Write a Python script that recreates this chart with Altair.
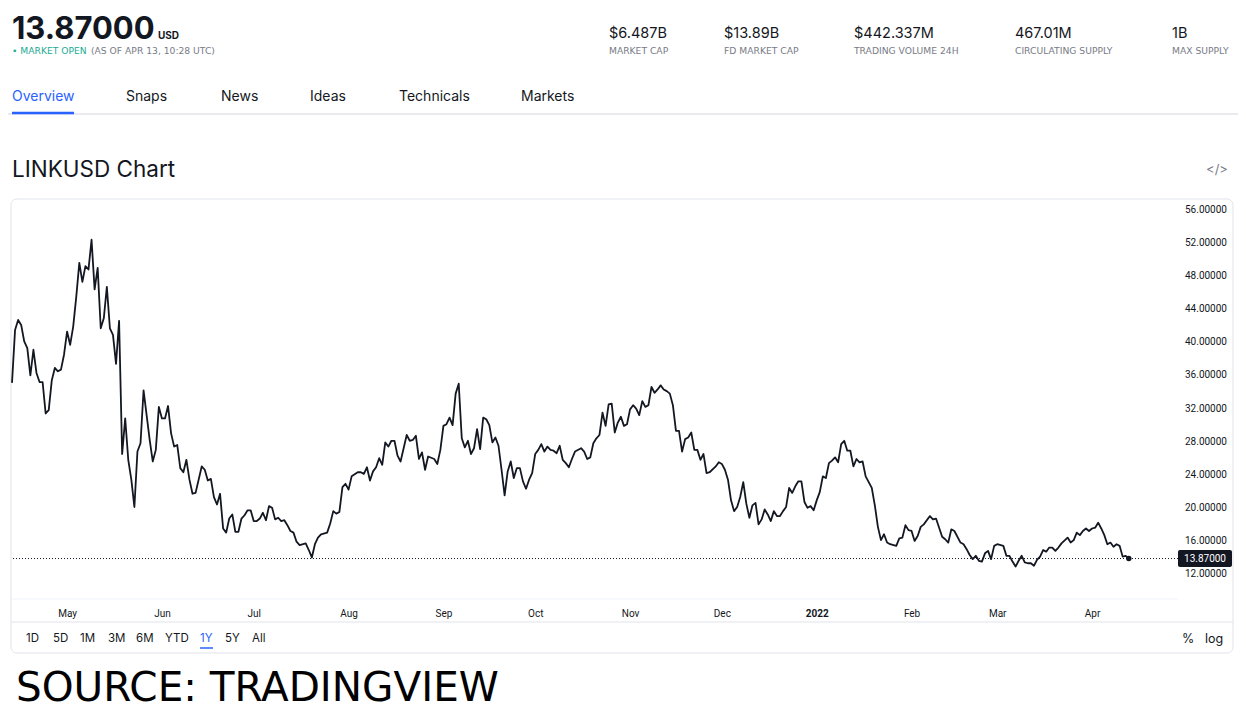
import altair as alt
import pandas as pd

# ---------------- data ----------------
START = "2021-04-13"
days = [0, 1, 2, 3, 4, 5, 6, 7, 8, 9, 10, 11, 12, 13, 14, 15, 16, 17, 18, 19, 20,
        21, 22, 23, 24, 25, 26, 27, 28, 29, 30, 31, 32, 33, 34, 35, 36, 37, 38, 39, 40,
        41, 42, 43, 45, 46, 47, 48, 49, 50, 51, 52, 53, 54, 55, 56, 57, 58, 59, 60,
        62, 63, 64, 65, 66, 67, 68, 69, 70, 71, 72, 73, 74, 75, 76, 77, 78, 79, 80,
        81, 82, 83, 84, 85, 86, 87, 88, 89, 90, 91, 92, 93, 94, 96, 97, 98, 99, 100,
        101, 103, 104, 105, 106, 107, 108, 109, 110, 111, 113, 114, 115, 116, 117, 118,
        119, 120, 121, 122, 123, 124, 125, 126, 127, 129, 130, 131, 132, 133, 134, 135,
        136, 138, 139, 140, 141, 142, 143, 144, 145, 146, 147, 148, 149, 150, 151, 152,
        153, 154, 155, 156, 157, 158, 159, 160, 161, 162, 163, 164, 165, 166, 167, 168,
        169, 170, 171, 172, 173, 174, 175, 176, 177, 178, 179, 180, 181, 182, 183, 184,
        186, 187, 188, 189, 190, 191, 192, 193, 194, 195, 196, 197, 198, 199, 200, 201,
        202, 203, 204, 205, 206, 207, 208, 209, 210, 211, 212, 213, 214, 215, 216, 217,
        218, 219, 220, 221, 222, 223, 224, 225, 226, 227, 228, 230, 231, 232, 233, 234,
        235, 236, 237, 238, 239, 240, 241, 242, 243, 244, 245, 246, 247, 248, 249, 250,
        251, 252, 253, 254, 255, 256, 257, 258, 259, 260, 261, 262, 263, 264, 265, 266,
        267, 268, 269, 270, 271, 272, 273, 274, 275, 276, 277, 278, 279, 281, 282, 283,
        284, 285, 286, 287, 289, 290, 291, 292, 293, 294, 295, 296, 297, 298, 300, 301,
        302, 304, 305, 306, 307, 308, 310, 311, 312, 313, 314, 315, 316, 317, 318, 319,
        320, 321, 322, 324, 325, 326, 327, 328, 329, 330, 331, 332, 333, 334, 335, 336,
        337, 338, 339, 340, 341, 342, 343, 345, 346, 347, 348, 349, 350, 351, 352, 353,
        354, 355, 356, 357, 358, 359, 360, 361, 362, 363, 364, 365]
prices = [35.1, 41.5, 42.7, 42.1, 40.1, 39.3, 36.0, 39.1, 36.3, 35.2, 35.2, 31.4, 31.8, 35.4, 36.9, 36.5, 36.7, 38.5, 41.3, 39.7, 41.9,
          45.5, 49.6, 47.3, 49.2, 48.8, 52.4, 46.4, 49.0, 41.7, 42.9, 46.7, 41.7, 40.9, 37.4, 42.6, 26.5, 30.8, 25.8, 23.4, 20.1,
          26.8, 27.8, 34.2, 28.2, 25.6, 27.0, 32.2, 30.8, 30.8, 32.3, 29.0, 27.4, 27.6, 24.8, 24.3, 25.8, 23.4, 21.7, 21.8,
          25.0, 24.6, 23.3, 23.5, 21.3, 20.4, 21.7, 17.5, 17.0, 18.7, 19.2, 17.1, 17.1, 18.7, 19.1, 19.7, 19.7, 18.4, 18.4,
          18.7, 19.4, 18.5, 20.2, 20.0, 18.6, 18.8, 18.4, 18.5, 17.9, 17.2, 17.0, 15.9, 15.5, 15.7, 14.9, 14.0, 15.6, 16.4,
          16.8, 17.0, 18.1, 19.6, 19.3, 19.5, 22.5, 22.9, 22.2, 23.8, 24.3, 24.3, 24.1, 24.9, 23.3, 24.4,
          24.9, 26.0, 25.2, 27.9, 27.4, 28.1, 28.1, 26.3, 25.6, 28.8, 28.1, 28.2, 28.7, 25.9, 26.7, 24.6,
          26.2, 25.9, 25.3, 27.0, 29.9, 30.1, 30.9, 30.0, 33.8, 35.0, 28.4, 27.3, 28.1, 26.5, 27.2, 29.5,
          27.1, 30.9, 30.7, 30.0, 27.9, 28.5, 27.5, 24.6, 21.5, 24.4, 25.6, 23.6, 24.8, 24.8, 23.2, 22.3,
          23.4, 24.2, 26.5, 27.0, 27.7, 26.8, 27.4, 27.0, 26.9, 26.6, 27.5, 25.8, 25.4, 24.9, 25.9, 26.8,
          27.2, 26.8, 25.9, 26.1, 27.8, 28.4, 28.8, 31.5, 29.9, 32.5, 32.6, 29.1, 30.3, 31.0, 29.9, 30.1,
          31.9, 32.4, 32.0, 31.2, 32.9, 32.2, 32.4, 34.6, 33.9, 34.3, 34.8, 34.3, 34.1, 33.8, 32.4, 29.3,
          29.3, 26.8, 28.3, 28.5, 29.1, 27.0, 27.0, 25.8, 26.5, 24.2, 24.3, 25.0, 25.5, 25.3, 24.6, 23.4,
          20.9, 19.6, 20.1, 21.3, 23.1, 20.5, 18.8, 20.3, 20.6, 18.0, 18.6, 19.8, 19.2, 18.4, 19.6, 19.0,
          19.0, 19.6, 20.1, 22.4, 21.8, 22.6, 23.2, 23.2, 20.7, 20.0, 20.2, 19.7, 20.9, 21.9, 23.8, 23.6,
          25.4, 25.7, 26.1, 25.5, 27.7, 28.1, 26.9, 26.9, 25.0, 25.9, 25.5, 25.6, 23.8, 22.4, 20.3, 17.7,
          16.1, 16.8, 15.8, 15.6, 15.4, 16.3, 16.4, 17.9, 17.3, 17.2, 16.0, 16.6, 17.7, 18.0, 19.0, 18.6,
          18.7, 16.5, 16.2, 15.8, 17.4, 17.2, 15.8, 15.6, 15.0, 14.3, 13.8, 14.2, 13.6, 13.5, 14.5, 14.8,
          13.8, 15.4, 15.6, 15.4, 14.2, 14.2, 13.5, 12.9, 13.6, 14.2, 13.4, 13.3, 13.3, 13.0, 13.7, 14.1,
          14.9, 14.7, 15.2, 15.2, 14.8, 15.2, 15.7, 16.4, 15.8, 16.1, 17.0, 16.7, 17.2, 17.5, 17.2, 17.5,
          17.6, 18.2, 17.5, 16.7, 15.6, 15.8, 15.3, 15.6, 15.4, 14.1, 14.2, 13.87]

y_ticks = [12, 16, 20, 24, 28, 32, 36, 40, 44, 48, 52, 56]
month_starts = [(2021, m) for m in range(5, 13)] + [(2022, m) for m in range(1, 5)]

price_text = "13.87000"
stat_values = ["$6.487B", "$13.89B", "$442.337M", "467.01M", "1B"]
stat_labels = ["MARKET CAP", "FD MARKET CAP", "TRADING VOLUME 24H", "CIRCULATING SUPPLY", "MAX SUPPLY"]
tabs = ["Overview", "Snaps", "News", "Ideas", "Technicals", "Markets"]
ranges = ["1D", "5D", "1M", "3M", "6M", "YTD", "1Y", "5Y", "All"]

# ---------------- build ----------------
dates = (pd.Timestamp(START) + pd.to_timedelta(days, unit="D")).strftime("%Y-%m-%d")
df = pd.DataFrame({"date": dates, "price": prices})
last = df.tail(1)
ticks_df = pd.DataFrame({"price": y_ticks})
ONE = pd.DataFrame({"k": [0]})

INK = "#131722"
GRAY = "#787b86"
LINE = "#e0e3eb"
BLUE = "#2962ff"
GREEN = "#22ab94"
UI = "Inter"
SMALL = "DejaVu Sans"

W, H = 1166, 398


def txt(s, x, y, size, color=INK, weight="normal", font=UI, align="left", baseline="alphabetic"):
    return alt.Chart(ONE).mark_text(
        text=s, fontSize=size, color=color, fontWeight=weight, font=font,
        align=align, baseline=baseline
    ).encode(x=alt.value(x), y=alt.value(y))


def hline(x1, x2, y, color=LINE, width=1):
    return alt.Chart(ONE).mark_rule(color=color, strokeWidth=width).encode(
        x=alt.value(x1), x2=alt.value(x2), y=alt.value(y))


x_scale = alt.Scale(type="utc", domain=[alt.DateTime(year=2021, month=4, date=13, utc=True),
                                         alt.DateTime(year=2022, month=4, date=29, hours=2, utc=True)])
y_scale = alt.Scale(domain=[9.1, 57.2], nice=False, zero=False)


def Y(field="price:Q"):
    return alt.Y(field, scale=y_scale, axis=None)


layers = []

# frame of the chart widget
layers.append(alt.Chart(ONE).mark_rect(fillOpacity=0, stroke=LINE, strokeWidth=1, cornerRadius=6).encode(
    x=alt.value(-1), x2=alt.value(1221), y=alt.value(-1), y2=alt.value(453)))
layers.append(hline(0, W, 399, "#f0f3fa"))
layers.append(hline(-1, 1221, 422, LINE))

# main line
x_enc = alt.X(
    "date:T", scale=x_scale,
    axis=alt.Axis(
        title=None, values=[alt.DateTime(year=y, month=m, date=1, utc=True) for y, m in month_starts],
        labelExpr="utcmonth(datum.value) == 0 ? utcFormat(datum.value, '%Y') : utcFormat(datum.value, '%b')",
        labelFontWeight={"condition": {"test": "utcmonth(datum.value) == 0", "value": "bold"}, "value": "normal"},
        labelFont="Roboto", labelFontSize=10, labelColor=INK, labelPadding=10,
        domain=False, ticks=False, tickSize=0, grid=False, labelOverlap=False, labelFlush=False),
)
layers.append(alt.Chart(df).mark_line(color=INK, strokeWidth=1.8, strokeJoin="round").encode(x=x_enc, y=Y()))

# price scale labels on the right (placed through the y scale)
layers.append(alt.Chart(ticks_df).mark_text(font="Roboto", fontSize=10, color=INK, align="left",
                                            baseline="middle").encode(
    x=alt.value(1173), y=Y(), text=alt.Text("price:Q", format=".5f")))

# last price line, tag and dot
layers.append(alt.Chart(last).mark_rule(color=INK, strokeWidth=1, strokeDash=[1, 2]).encode(y=Y()))
layers.append(alt.Chart(last).mark_rect(color=INK, yOffset=-8.5, y2Offset=8.5, cornerRadius=2).encode(
    x=alt.value(1166), x2=alt.value(1220), y=Y(), y2=alt.Y2("price:Q")))
layers.append(alt.Chart(last).mark_text(color="white", fontSize=10, font="Roboto", align="center",
                                        baseline="middle").encode(
    x=alt.value(1193), y=Y(), text=alt.Text("price:Q", format=".5f")))
layers.append(alt.Chart(last).mark_circle(color=INK, size=30, opacity=1).encode(
    x=alt.X("date:T", scale=x_scale), y=Y()))

# header
layers.append(txt(price_text, 0, -161, 31, weight="bold"))
layers.append(txt("USD", 146, -161, 10, weight="bold"))
layers.append(txt("\u2022 MARKET OPEN", 0, -146, 9.2, color=GREEN, font=SMALL))
layers.append(txt("(AS OF APR 13, 10:28 UTC)", 79, -146, 9.2, color=GRAY, font=SMALL))
stat_x = [597, 712, 842, 1003, 1160]
for v, lab, sx in zip(stat_values, stat_labels, stat_x):
    layers.append(txt(v, sx, -162.5, 14.5))
    layers.append(txt(lab, sx, -146, 9.2, color=GRAY, font=SMALL))

tab_x = [0, 114, 209, 298, 387, 509]
for t, tx in zip(tabs, tab_x):
    layers.append(txt(t, tx, -103, 14, color=BLUE if t == "Overview" else INK, baseline="middle"))
layers.append(hline(-4, 1226, -86, LINE, 1.5))
layers.append(hline(0, 62, -87, BLUE, 2.5))

layers.append(txt("LINKUSD Chart", 0, -23.5, 22.5))
layers.append(txt("</>", 1205, -30, 13, color=GRAY, align="center", baseline="middle"))

# range buttons
range_x = [14, 41, 68, 96, 124, 153, 188, 213, 240]
for r, rx in zip(ranges, range_x):
    layers.append(txt(r, rx, 439, 11.5, color=BLUE if r == "1Y" else INK, baseline="middle"))
layers.append(hline(188, 201, 448, BLUE, 1.5))
layers.append(txt("%", 1170, 439, 12.5, baseline="middle"))
layers.append(txt("log", 1193, 439, 12.5, baseline="middle"))

# source caption
layers.append(txt("SOURCE: TRADINGVIEW", 4, 501, 40.5, color="#000000", font="DejaVu Sans"))

chart = alt.layer(*layers).properties(
    width=W, height=H,
    autosize=alt.AutoSizeParams(type="none"),
    padding={"left": 4, "top": 192, "right": 60, "bottom": 112},
    background="white",
).configure_view(stroke=None)

chart.save("out.html", embed_options={"renderer": "svg", "actions": False})
